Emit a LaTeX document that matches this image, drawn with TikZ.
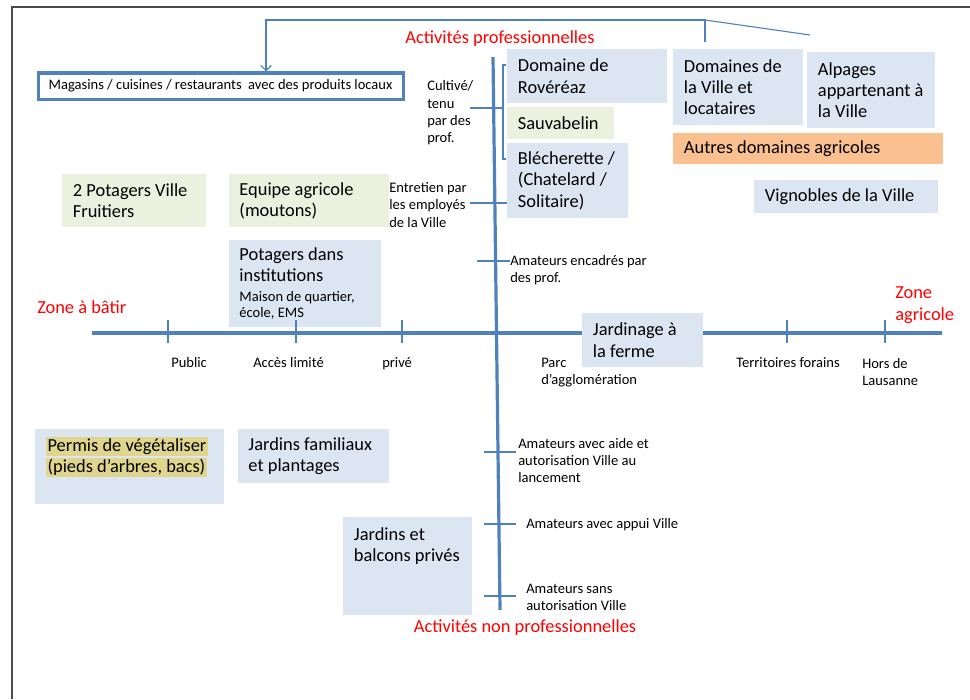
\documentclass[tikz,border=0pt]{standalone}
\usepackage{fontspec}
\setmainfont{Carlito}
\usepackage{xcolor}
\usepackage{tikz}
\usetikzlibrary{arrows.meta,positioning}
\definecolor{boxBlue}{HTML}{DCE6F2}
\definecolor{boxGreen}{HTML}{EBF1DE}
\definecolor{boxOrange}{HTML}{FAC090}
\definecolor{axisBlue}{HTML}{4F81BD}
\definecolor{hlYellow}{HTML}{DFD58C}
\definecolor{frameGray}{HTML}{4A4A4A}
\newcommand{\notefont}{\fontsize{10.9}{12.8}\selectfont}
\newcommand{\hlbox}[1]{\setlength{\fboxsep}{1.2pt}\colorbox{hlYellow}{#1}}

\begin{document}
\begin{tikzpicture}[
  x=0.75pt, y=-0.75pt,
  font=\fontsize{13.8}{16}\selectfont,
  box/.style={anchor=north west, inner xsep=8pt, inner ysep=0pt, align=flush left},
  bluebox/.style={box, fill=boxBlue},
  greenbox/.style={box, fill=boxGreen},
  orangebox/.style={box, fill=boxOrange},
  shopbox/.style={anchor=north west, draw=axisBlue, line width=2.3pt, fill=white, inner xsep=8pt, inner ysep=0pt, font=\notefont},
  note/.style={anchor=west, align=left, inner sep=0pt, font=\notefont},
  axisnote/.style={note, anchor=base west},
  zonelabel/.style={text=red, inner sep=0pt, align=left},
  axisline/.style={draw=axisBlue, line width=2.4pt},
  tickline/.style={draw=axisBlue, line width=0.8pt},
  arrow/.style={draw=axisBlue, line width=0.8pt, -{Straight Barb[length=4pt, width=8pt]}},
]
\useasboundingbox (0,0) rectangle (970,699);
\draw[frameGray, line width=1.1pt] (12,699) -- (12,7) -- (970,7);

% axes
\coordinate (vtop) at (493,57);
\coordinate (vbot) at (500,610);
\coordinate (hleft) at (92,333);
\coordinate (hright) at (942,333);
\draw[axisline] (vtop) -- (vbot);
\draw[axisline] (hleft) -- (hright);

\node[zonelabel, anchor=center] (proflabel) at (500,39) {Activités professionnelles};
\node[zonelabel, anchor=center] (nonproflabel) at (525,628) {Activités non professionnelles};
\node[zonelabel, anchor=west] (batirlabel) at (37,307) {Zone à bâtir};
\node[zonelabel, anchor=west, font=\fontsize{13.8}{16.5}\selectfont] (agricolelabel) at (895,305) {Zone\\agricole};

\node[shopbox, minimum height=19.5pt] (magasins) at (36.5,71.5) {Magasins / cuisines / restaurants~ avec des produits locaux};

% professional side
\node[bluebox, minimum height=40.5pt, text width=104pt] (roveraz) at (507,49) {Domaine de\\Rovéréaz};
\node[greenbox, minimum height=24pt, text width=64.25pt, below=2.25pt of roveraz.south west, anchor=north west] (sauvabelin) {Sauvabelin};
\node[bluebox, minimum height=56.25pt, text width=74.75pt, below=3pt of sauvabelin.south west, anchor=north west] (blecherette) {Blécherette~/\\(Chatelard~/\\Solitaire)};
\node[bluebox, minimum height=57pt, text width=81.5pt] (domaines) at (673,49) {Domaines de\\la Ville et\\locataires};
\node[bluebox, minimum height=57pt, text width=80pt] (alpages) at (807,52) {Alpages\\appartenant~à\\la Ville};
\node[orangebox, minimum height=23.25pt, text width=186.5pt, below=5.25pt of domaines.south west, anchor=north west] (autres) {Autres domaines agricoles};
\node[bluebox, minimum height=24.75pt, text width=122pt] (vignobles) at (754,180) {Vignobles de la Ville};

\node[greenbox, minimum height=39.75pt, text width=92pt] (potagers) at (62,174) {2 Potagers Ville\\Fruitiers};
\node[greenbox, minimum height=39.75pt, text width=104pt, right=16.5pt of potagers.north east, anchor=north west] (equipe) {Equipe agricole\\(moutons)};
\node[bluebox, minimum height=65.25pt, text width=98pt, below=9pt of equipe.south west, anchor=north west] (institutions) {Potagers dans\\institutions\par\vspace{3.5pt}{\fontsize{10.9}{11.5}\selectfont Maison de quartier,\\école, EMS\par}};
\node[bluebox, minimum height=40.5pt, text width=74.75pt] (jardinage) at (582,313) {Jardinage à\\la ferme};

% non professional side
\node[bluebox, text width=125.75pt, text height=16.5pt, text depth=39.75pt] (permis) at (35,429) {\hlbox{Permis de végétaliser}\\\hlbox{(pieds d’arbres, bacs)}};
\node[bluebox, minimum height=40.5pt, text width=97.25pt, right=9.75pt of permis.north east, anchor=north west] (familiaux) {Jardins familiaux\\et plantages};
\node[bluebox, text width=80.75pt, text height=17.25pt, text depth=56.25pt] (balcons) at (343,517) {Jardins et\\balcons~privés};

% notes along the axes
\node[note, font=\fontsize{10.9}{13}\selectfont] (cultive) at (427,113) {Cultivé/\\tenu\\par des\\prof.};
\node[note] (entretien) at (389,205) {Entretien par\\les employés\\de la Ville};
\node[note] (encadres) at (510,270.5) {Amateurs encadrés par\\des prof.};
\node[note] (aide) at (518,460.5) {Amateurs avec aide et\\autorisation Ville au\\lancement};
\node[axisnote] (appui) at (526,528) {Amateurs avec appui Ville};
\node[note] (sans) at (526,597) {Amateurs sans\\autorisation Ville};

\node[axisnote] (public) at (171,367) {Public};
\node[axisnote] (acces) at (253,367) {Accès limité};
\node[axisnote] (prive) at (382,367) {privé};
\node[note] (parc) at (541,372.5) {Parc\\d’agglomération};
\node[axisnote] (forains) at (736,367) {Territoires forains};
\node[note] (hors) at (862,372) {Hors de\\Lausanne};

% ticks
\foreach \tx in {168,296,402,787,885}
  \draw[tickline] (\tx,320) -- (\tx,343);
\draw[tickline] (470,108) -- (503,108);
\draw[tickline] (506,65) -- (503,65) -- (503,159) -- (506,159);
\draw[tickline] (470,203) -- (470,203 -| blecherette.west);
\draw[tickline] (477,261) -- (477,261 -| encadres.west);
\foreach \ty in {452,524,596}
  \draw[tickline] (484,\ty) -- (516,\ty);

% link to the shops
\coordinate (ctop) at (705,42);
\coordinate (cknee) at (705,20);
\coordinate (carrow) at (266,20);
\coordinate (cslant) at (810,35);
\draw[arrow] (ctop) -- (cknee) -- (carrow) -- (carrow |- magasins.north);
\draw[tickline] (cknee) -- (cslant);
\end{tikzpicture}
\end{document}
